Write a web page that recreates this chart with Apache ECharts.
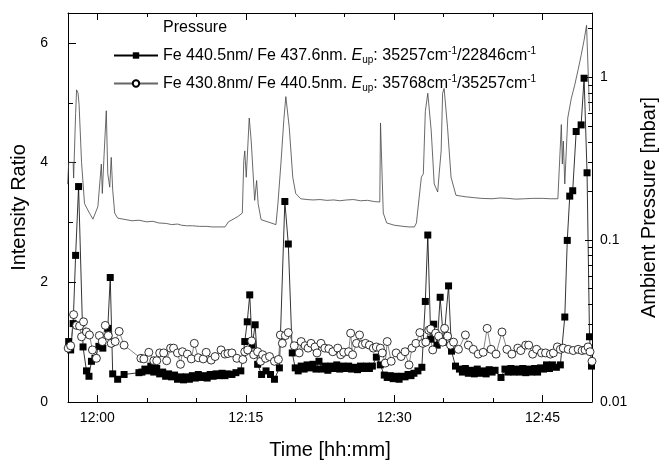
<!DOCTYPE html>
<html>
<head>
<meta charset="utf-8">
<script src="https://cdn.jsdelivr.net/npm/echarts@6/dist/echarts.min.js"></script>
<style>
  html, body { margin: 0; padding: 0; background: #fff; }
  #main { width: 667px; height: 465px; }
</style>
</head>
<body>
<div id="main"></div>
<script>
// x values are minutes after 12:00
var timeTicks = [0, 15, 30, 45];
var timeMinor = [5, 10, 20, 25, 35, 40, 50];
var ratioTicks = [0, 2, 4, 6];
var ratioMinor = [1, 3, 5];
var pressTicks = [0.01, 0.1, 1];
var pressMinor = [0.02, 0.03, 0.04, 0.05, 0.06, 0.07, 0.08, 0.09,
                  0.2, 0.3, 0.4, 0.5, 0.6, 0.7, 0.8, 0.9, 2];

var seriesNames = ['Pressure', 'Fe 440.5nm/ Fe 437.6nm', 'Fe 430.8nm/ Fe 440.5nm'];
var legendLabels = [
  'Pressure',
  'Fe 440.5nm/ Fe 437.6nm. {i|E}{sub|up}: 35257cm{sup|-1}/22846cm{sup|-1}',
  'Fe 430.8nm/ Fe 440.5nm. {i|E}{sub|up}: 35768cm{sup|-1}/35257cm{sup|-1}'
];

// ambient pressure [mbar]
var pressure = [
  [-3.0, 0.22], [-2.9, 0.30], [-2.45, 0.30], [-2.4, 0.24], [-2.2, 0.6], [-2.1, 0.84], [-1.95, 0.8],
  [-1.85, 0.68], [-1.6, 0.3], [-1.3, 0.167], [-0.8, 0.146], [-0.45, 0.134], [0.05, 0.16],
  [0.4, 0.293], [0.5, 0.193], [0.65, 0.308], [0.9, 0.624], [1.05, 0.255], [1.25, 0.211],
  [1.4, 0.322], [1.55, 0.202], [1.75, 0.146], [2.05, 0.136], [2.9, 0.133], [3.5, 0.131],
  [4.2, 0.132], [5.0, 0.129], [5.6, 0.13], [6.2, 0.127], [7.0, 0.126], [7.5, 0.124],
  [8.1, 0.125], [8.5, 0.123], [9.0, 0.122], [9.6, 0.122], [10.3, 0.121], [11.0, 0.121],
  [11.6, 0.12], [12.2, 0.12], [12.9, 0.12], [13.25, 0.129], [14.2, 0.139], [14.65, 0.146],
  [14.8, 0.308], [14.9, 0.353], [15.05, 0.243], [15.35, 0.563], [15.55, 0.406], [15.9, 0.175],
  [16.1, 0.232], [16.25, 0.167], [16.55, 0.133], [17.55, 0.127], [18.05, 0.124], [18.25, 0.167],
  [18.55, 0.293], [18.85, 0.55], [19.05, 0.763], [19.4, 0.49], [19.75, 0.243], [20.05, 0.193],
  [20.55, 0.179], [21.2, 0.177], [21.8, 0.176], [22.5, 0.177], [23.2, 0.175], [23.9, 0.176],
  [24.5, 0.174], [25.2, 0.176], [25.9, 0.177], [26.6, 0.174], [27.3, 0.175], [28.0, 0.172],
  [28.55, 0.171], [28.62, 0.525], [28.9, 0.146], [29.25, 0.127], [30.0, 0.123], [30.9, 0.121],
  [31.5, 0.12], [32.05, 0.12], [32.25, 0.127], [32.75, 0.243], [32.95, 0.255], [33.15, 0.619],
  [33.4, 0.8], [33.75, 0.468], [34.05, 0.221], [34.4, 0.197], [34.55, 0.255], [34.75, 0.353],
  [34.9, 0.8], [35.05, 0.857], [35.4, 0.49], [35.75, 0.243], [36.25, 0.188], [37.25, 0.184],
  [38.0, 0.182], [38.8, 0.18], [39.9, 0.179], [40.7, 0.181], [41.5, 0.18], [42.3, 0.178],
  [43.2, 0.179], [44.0, 0.18], [45.0, 0.18], [45.8, 0.179], [46.55, 0.179], [46.75, 0.177],
  [46.9, 0.513], [47.0, 0.293], [47.1, 0.406], [47.25, 0.221], [47.55, 0.563], [47.9, 0.74],
  [48.25, 0.898], [48.6, 1.12], [48.9, 1.37], [49.2, 1.7], [49.45, 2.1], [49.75, 0.62]
];

// Fe 440.5nm / Fe 437.6nm (filled squares)
var ratioA = [
  [-2.9, 1.01], [-2.7, 0.87], [-2.45, 1.31], [-2.2, 2.45], [-1.9, 3.6], [-1.45, 0.92],
  [-1.1, 0.52], [-0.85, 0.43], [-0.6, 0.68], [-0.25, 0.73], [0.15, 0.93], [0.55, 0.9],
  [1.05, 1.23], [1.3, 2.08], [1.55, 0.47], [2.05, 0.38], [2.7, 0.46],
  [4.2, 0.49], [4.5, 0.5], [4.8, 0.55], [5.1, 0.52], [5.4, 0.6], [5.7, 0.5], [6.0, 0.56],
  [6.3, 0.47], [6.6, 0.5], [6.9, 0.43], [7.2, 0.47], [7.5, 0.42], [7.8, 0.45], [8.1, 0.38],
  [8.4, 0.42], [8.7, 0.37], [9.0, 0.42], [9.3, 0.38], [9.6, 0.44], [9.9, 0.4], [10.2, 0.46],
  [10.5, 0.41], [10.8, 0.44], [11.1, 0.4], [11.4, 0.46], [11.7, 0.43], [12.0, 0.47],
  [12.3, 0.44], [12.6, 0.48], [12.9, 0.44], [13.2, 0.47], [13.6, 0.46], [14.0, 0.49],
  [14.5, 0.52],
  [14.9, 1.01], [15.15, 1.34], [15.4, 1.79], [15.65, 0.95], [15.95, 1.29], [16.2, 0.63],
  [16.6, 0.46], [17.05, 0.52], [17.5, 0.46], [17.9, 0.38], [18.4, 0.57], [18.95, 3.35],
  [19.3, 2.64], [19.7, 0.82],
  [20.0, 0.57], [20.3, 0.52], [20.6, 0.6], [20.9, 0.55], [21.2, 0.62], [21.5, 0.57],
  [21.8, 0.63], [22.1, 0.55], [22.4, 0.68], [22.7, 0.55], [23.0, 0.6], [23.3, 0.53],
  [23.6, 0.6], [23.9, 0.56], [24.2, 0.62], [24.5, 0.55], [24.8, 0.6], [25.1, 0.56],
  [25.4, 0.6], [25.7, 0.55], [26.0, 0.58], [26.3, 0.54], [26.6, 0.6], [26.9, 0.56],
  [27.2, 0.6], [27.5, 0.56], [27.8, 0.6], [28.2, 0.75], [28.6, 0.62],
  [29.0, 0.45], [29.3, 0.41], [29.6, 0.44], [29.9, 0.39], [30.2, 0.43], [30.5, 0.38],
  [30.8, 0.43], [31.1, 0.42], [31.4, 0.46], [31.7, 0.44], [32.0, 0.48], [32.4, 0.52],
  [32.8, 0.58],
  [33.15, 1.68], [33.4, 2.79], [33.7, 1.05], [34.0, 1.3], [34.35, 0.95], [34.65, 1.75],
  [35.0, 1.0], [35.5, 1.94], [35.8, 0.85], [36.2, 0.6], [36.6, 0.55],
  [36.9, 0.5], [37.2, 0.56], [37.5, 0.48], [37.8, 0.53], [38.1, 0.47], [38.4, 0.55],
  [38.7, 0.48], [39.0, 0.52], [39.3, 0.47], [39.6, 0.54], [39.9, 0.5], [40.2, 0.53],
  [40.8, 0.41], [41.2, 0.55], [41.5, 0.5], [41.8, 0.56], [42.1, 0.5], [42.4, 0.55],
  [42.7, 0.5], [43.0, 0.56], [43.3, 0.49], [43.6, 0.55], [43.9, 0.5], [44.2, 0.56],
  [44.5, 0.5], [44.8, 0.57], [45.1, 0.55], [45.4, 0.62], [45.7, 0.56], [46.0, 0.62],
  [46.4, 0.58], [46.8, 0.62],
  [47.25, 1.42], [47.5, 2.7], [47.75, 3.44], [48.05, 3.53], [48.4, 4.52], [48.9, 4.63],
  [49.2, 5.41], [49.5, 3.83], [49.75, 1.09], [49.95, 0.6]
];

// Fe 430.8nm / Fe 440.5nm (open circles)
var ratioB = [
  [-2.95, 0.9], [-2.7, 0.94], [-2.4, 1.46], [-2.1, 1.28], [-1.8, 1.27], [-1.6, 1.09],
  [-1.4, 1.34], [-1.1, 1.17], [-0.8, 1.12], [-0.5, 0.87], [-0.1, 0.73], [0.2, 1.11],
  [0.5, 1.01], [0.8, 1.28], [1.1, 1.11], [1.4, 0.98], [1.8, 1.01], [2.2, 1.18], [2.7, 0.95],
  [4.4, 0.73], [4.7, 0.72], [5.2, 0.83], [5.7, 0.69], [6.0, 0.69], [6.3, 0.82], [6.7, 0.82],
  [7.0, 0.69], [7.4, 0.9], [7.7, 0.9], [8.1, 0.82], [8.4, 0.63], [8.6, 0.84], [9.1, 0.8],
  [9.5, 0.72], [9.8, 0.98], [10.2, 0.74], [10.7, 0.72], [11.0, 0.83], [11.5, 0.7],
  [11.9, 0.76], [12.5, 0.87], [12.9, 0.8], [13.2, 0.81],
  [13.6, 0.82], [14.1, 0.73], [14.7, 0.71], [14.9, 0.84], [15.2, 0.87], [15.6, 1.02],
  [15.8, 0.79], [16.2, 0.84], [16.5, 0.68], [16.7, 0.79], [17.0, 0.73], [17.4, 0.76],
  [17.9, 0.68], [18.3, 0.71], [18.5, 1.12], [18.7, 0.98], [19.0, 1.11], [19.3, 1.16],
  [19.9, 0.94], [20.4, 0.82], [20.6, 1.01], [21.0, 0.94], [21.3, 0.9], [21.6, 0.98],
  [22.0, 0.92], [22.2, 0.82], [22.6, 0.98], [23.0, 0.9], [23.4, 0.89], [23.8, 0.84],
  [24.3, 0.9], [24.6, 0.79], [24.9, 0.83], [25.4, 0.84], [25.6, 1.15], [25.8, 0.79],
  [26.2, 0.98], [26.5, 1.12], [26.8, 0.96], [27.1, 0.98], [27.5, 0.95], [27.9, 0.9],
  [28.2, 0.92], [28.6, 0.9], [28.8, 0.82], [29.1, 0.65], [29.3, 1.01], [29.7, 0.68],
  [30.2, 0.82], [30.7, 0.76], [31.1, 0.84], [31.5, 0.62], [31.8, 0.9], [32.2, 0.98],
  [32.6, 1.16], [32.9, 0.98],
  [33.2, 1.0], [33.5, 1.2], [33.7, 1.22], [33.9, 0.87], [34.2, 1.15], [34.5, 1.1],
  [34.9, 1.0], [35.1, 1.23], [35.4, 1.1], [35.7, 0.95], [36.0, 1.0], [36.5, 0.88],
  [37.2, 1.12], [37.5, 0.95], [38.0, 0.88], [38.5, 0.8], [39.0, 0.83], [39.4, 1.23],
  [39.8, 0.88], [40.3, 0.8], [40.9, 1.17], [41.4, 0.88], [41.9, 0.8], [42.5, 0.9],
  [42.8, 0.86], [43.3, 0.95], [43.6, 0.95], [44.0, 0.8], [44.4, 0.88], [44.9, 0.82],
  [45.3, 0.82], [45.8, 0.8], [46.1, 0.82], [46.5, 0.92], [46.8, 0.88], [47.1, 0.9],
  [47.6, 0.88], [48.1, 0.86], [48.6, 0.88], [49.0, 0.86], [49.3, 0.87], [49.6, 0.92],
  [49.8, 0.84], [50.0, 0.68]
];

var FONT = 'Liberation Sans, Arial, sans-serif';
var tMin = -2.97, tMax = 50.0;

function clock(v) {
  var m = Math.round(v);
  return '12:' + (m < 10 ? '0' + m : m);
}

// extra axis that only carries tick marks (minor ticks, top frame)
function tickAxis(extra) {
  var a = {
    gridIndex: 0,
    splitLine: { show: false },
    axisLine: { show: false, onZero: false },
    axisLabel: { show: false },
    axisTick: { show: true, inside: true, length: 4, lineStyle: { color: '#000', width: 1 } }
  };
  for (var k in extra) a[k] = extra[k];
  return a;
}

var chart = echarts.init(document.getElementById('main'), null, { renderer: 'canvas' });

chart.setOption({
  animation: false,
  backgroundColor: '#fff',
  textStyle: { fontFamily: FONT },
  grid: { left: 68, right: 70, top: 13, bottom: 57, containLabel: false },
  legend: {
    orient: 'vertical',
    left: 108,
    top: 13,
    padding: 5,
    itemWidth: 44,
    itemHeight: 8,
    itemGap: 9,
    selectedMode: false,
    data: [
      { name: seriesNames[0], icon: 'none' },
      { name: seriesNames[1] },
      { name: seriesNames[2] }
    ],
    formatter: function (name) {
      return legendLabels[seriesNames.indexOf(name)];
    },
    textStyle: {
      fontFamily: FONT, fontSize: 16, color: '#000', lineHeight: 19,
      rich: {
        i: { fontFamily: FONT, fontSize: 16, fontStyle: 'italic', color: '#000', lineHeight: 19 },
        sub: { fontFamily: FONT, fontSize: 10, color: '#000', verticalAlign: 'bottom', lineHeight: 10 },
        sup: { fontFamily: FONT, fontSize: 10, color: '#000', verticalAlign: 'top', lineHeight: 10 }
      }
    }
  },
  xAxis: [
    {
      type: 'value', position: 'bottom', min: tMin, max: tMax,
      name: 'Time [hh:mm]', nameLocation: 'middle', nameGap: 38,
      nameTextStyle: { fontFamily: FONT, fontSize: 20, color: '#000' },
      axisLine: { show: true, onZero: false, lineStyle: { color: '#000', width: 1 } },
      axisTick: { show: true, inside: true, length: 7, customValues: timeTicks, lineStyle: { color: '#000' } },
      axisLabel: { customValues: timeTicks, formatter: clock, color: '#000', fontSize: 14, margin: 9,
        fontFamily: FONT, align: 'center', verticalAlign: 'top' },
      splitLine: { show: false }
    },
    tickAxis({ type: 'value', position: 'bottom', min: tMin, max: tMax,
      axisTick: { show: true, inside: true, length: 4, customValues: timeMinor, lineStyle: { color: '#000' } } }),
    tickAxis({ type: 'value', position: 'top', min: tMin, max: tMax,
      axisLine: { show: true, onZero: false, lineStyle: { color: '#000', width: 1 } },
      axisTick: { show: true, inside: true, length: 7, customValues: timeTicks, lineStyle: { color: '#000' } } }),
    tickAxis({ type: 'value', position: 'top', min: tMin, max: tMax,
      axisTick: { show: true, inside: true, length: 4, customValues: timeMinor, lineStyle: { color: '#000' } } })
  ],
  yAxis: [
    {
      type: 'value', position: 'left', min: 0, max: 6.5,
      name: 'Intensity Ratio', nameLocation: 'middle', nameGap: 28,
      nameTextStyle: { fontFamily: FONT, fontSize: 20, color: '#000' },
      axisLine: { show: true, onZero: false, lineStyle: { color: '#000', width: 1 } },
      axisTick: { show: true, inside: true, length: 8, customValues: ratioTicks, lineStyle: { color: '#000' } },
      axisLabel: { customValues: ratioTicks, color: '#000', fontSize: 14, margin: 20, fontFamily: FONT,
        align: 'right', verticalAlign: 'middle' },
      splitLine: { show: false }
    },
    tickAxis({ type: 'value', position: 'left', min: 0, max: 6.5,
      axisTick: { show: true, inside: true, length: 5, customValues: ratioMinor, lineStyle: { color: '#000' } } }),
    {
      type: 'log', logBase: 10, position: 'right', min: 0.01, max: 2.5,
      name: 'Ambient Pressure [mbar]', nameLocation: 'middle', nameGap: 47,
      nameTextStyle: { fontFamily: FONT, fontSize: 20, color: '#000' },
      axisLine: { show: true, onZero: false, lineStyle: { color: '#000', width: 1 } },
      axisTick: { show: true, inside: true, length: 7, customValues: pressTicks, lineStyle: { color: '#000' } },
      axisLabel: { customValues: pressTicks, color: '#000', fontSize: 14, margin: 8, fontFamily: FONT,
        align: 'left', verticalAlign: 'middle',
        formatter: function (v) { return String(+v.toPrecision(3)); } },
      splitLine: { show: false }
    },
    tickAxis({ type: 'log', logBase: 10, position: 'right', min: 0.01, max: 2.5,
      axisTick: { show: true, inside: true, length: 4, customValues: pressMinor, lineStyle: { color: '#000' } } })
  ],
  series: [
    {
      name: seriesNames[0], type: 'line', xAxisIndex: 0, yAxisIndex: 2,
      data: pressure, showSymbol: false, symbol: 'none',
      lineStyle: { color: '#444', width: 0.8 },
      itemStyle: { color: '#444' }
    },
    {
      name: seriesNames[1], type: 'line', xAxisIndex: 0, yAxisIndex: 0,
      data: ratioA, symbol: 'rect', symbolSize: 7,
      lineStyle: { color: '#000', width: 0.8 },
      itemStyle: { color: '#000' }
    },
    {
      name: seriesNames[2], type: 'line', xAxisIndex: 0, yAxisIndex: 0,
      data: ratioB, symbol: 'circle', symbolSize: 8,
      lineStyle: { color: '#666', width: 0.8 },
      itemStyle: { color: '#fff', borderColor: '#000', borderWidth: 0.8 }
    }
  ]
});
</script>
</body>
</html>
